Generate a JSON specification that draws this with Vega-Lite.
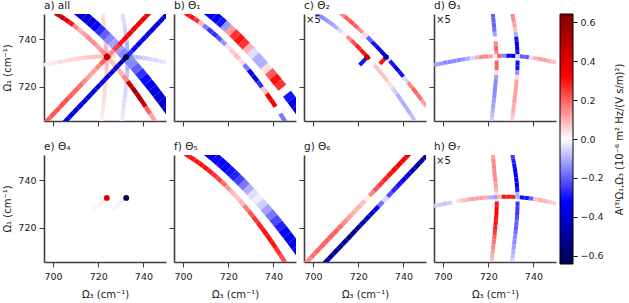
{
"$schema":"https://vega.github.io/schema/vega-lite/v6.json",
"padding":{"left":2,"top":0,"right":1,"bottom":1},
"config":{"font":"DejaVu Sans","view":{"stroke":null},
"axis":{"grid":false,"domainColor":"#404040","domainWidth":1.6,"tickColor":"#404040","tickWidth":1.1,"tickSize":5,"labelFontSize":9.5,"labelColor":"#1a1a1a","titleFontSize":10,"titleFontWeight":"normal","titleColor":"#1a1a1a","labelPadding":3},
"axisX":{"titlePadding":9,"labelPadding":4},"axisY":{"titlePadding":5},
"title":{"anchor":"start","frame":"group","fontSize":10.5,"fontWeight":"normal","offset":3,"color":"#1a1a1a"}},
"datasets":{"geom":[
{"s":"T0","x":701,"y":750.86,"x2":703,"y2":749.73,"w":"n"},{"s":"T1","x":703,"y":749.73,"x2":705,"y2":748.51,"w":"n"},{"s":"T2","x":705,"y":748.51,"x2":707,"y2":747.2,"w":"n"},{"s":"T3","x":707,"y":747.2,"x2":709,"y2":745.81,"w":"n"},{"s":"T4","x":709,"y":745.81,"x2":711,"y2":744.33,"w":"n"},{"s":"T5","x":711,"y":744.33,"x2":713,"y2":742.76,"w":"n"},{"s":"T6","x":713,"y":742.76,"x2":715,"y2":741.1,"w":"n"},{"s":"T7","x":715,"y":741.1,"x2":717,"y2":739.36,"w":"n"},{"s":"T8","x":717,"y":739.36,"x2":719,"y2":737.52,"w":"n"},{"s":"T9","x":719,"y":737.52,"x2":721,"y2":735.6,"w":"n"},{"s":"T10","x":721,"y":735.6,"x2":723,"y2":733.6,"w":"n"},{"s":"T11","x":723,"y":733.6,"x2":725,"y2":731.5,"w":"n"},{"s":"T12","x":725,"y":731.5,"x2":727,"y2":729.32,"w":"n"},{"s":"T13","x":727,"y":729.32,"x2":729,"y2":727.04,"w":"n"},{"s":"T14","x":729,"y":727.04,"x2":731,"y2":724.68,"w":"n"},{"s":"T15","x":731,"y":724.68,"x2":733,"y2":722.24,"w":"n"},{"s":"T16","x":733,"y":722.24,"x2":735,"y2":719.7,"w":"n"},{"s":"T17","x":735,"y":719.7,"x2":737,"y2":717.08,"w":"n"},{"s":"T18","x":737,"y":717.08,"x2":739,"y2":714.37,"w":"n"},{"s":"T19","x":739,"y":714.37,"x2":741,"y2":711.57,"w":"n"},{"s":"T20","x":741,"y":711.57,"x2":743,"y2":708.68,"w":"n"},{"s":"T21","x":743,"y":708.68,"x2":745,"y2":705.71,"w":"n"},{"s":"T22","x":745,"y":705.71,"x2":747,"y2":702.65,"w":"n"},
{"s":"W0","x":710.5,"y":752.2,"x2":714,"y2":749.5,"w":"k"},{"s":"W1","x":714,"y":749.5,"x2":716,"y2":747.87,"w":"k"},{"s":"W2","x":716,"y":747.87,"x2":718,"y2":746.2,"w":"k"},{"s":"W3","x":718,"y":746.2,"x2":720,"y2":744.47,"w":"k"},{"s":"W4","x":720,"y":744.47,"x2":722,"y2":742.69,"w":"k"},{"s":"W5","x":722,"y":742.69,"x2":724,"y2":740.85,"w":"k"},{"s":"W6","x":724,"y":740.85,"x2":726,"y2":738.95,"w":"k"},{"s":"W7","x":726,"y":738.95,"x2":728,"y2":737.01,"w":"k"},{"s":"W8","x":728,"y":737.01,"x2":730,"y2":735.01,"w":"k"},{"s":"W9","x":730,"y":735.01,"x2":732,"y2":732.95,"w":"k"},{"s":"W10","x":732,"y":732.95,"x2":734,"y2":730.85,"w":"k"},{"s":"W11","x":734,"y":730.85,"x2":736,"y2":728.67,"w":"k"},{"s":"W12","x":736,"y":728.67,"x2":738,"y2":726.46,"w":"k"},{"s":"W13","x":738,"y":726.46,"x2":740,"y2":724.19,"w":"k"},{"s":"W14","x":740,"y":724.19,"x2":742,"y2":721.86,"w":"k"},{"s":"W15","x":742,"y":721.86,"x2":744,"y2":719.48,"w":"k"},{"s":"W16","x":744,"y":719.48,"x2":746,"y2":717.04,"w":"k"},{"s":"W17","x":746,"y":717.04,"x2":748,"y2":714.55,"w":"k"},{"s":"W18","x":748,"y":714.55,"x2":750,"y2":712.01,"w":"k"},{"s":"W19","x":750,"y":712.01,"x2":753,"y2":708.09,"w":"k"},
{"s":"R0","x":696,"y":704.4,"x2":699,"y2":707.4,"w":"d"},{"s":"R1","x":699,"y":707.4,"x2":701,"y2":709.4,"w":"d"},{"s":"R2","x":701,"y":709.4,"x2":703,"y2":711.4,"w":"d"},{"s":"R3","x":703,"y":711.4,"x2":705,"y2":713.4,"w":"d"},{"s":"R4","x":705,"y":713.4,"x2":707,"y2":715.4,"w":"d"},{"s":"R5","x":707,"y":715.4,"x2":709,"y2":717.4,"w":"d"},{"s":"R6","x":709,"y":717.4,"x2":711,"y2":719.4,"w":"d"},{"s":"R7","x":711,"y":719.4,"x2":713,"y2":721.4,"w":"d"},{"s":"R8","x":713,"y":721.4,"x2":715,"y2":723.4,"w":"d"},{"s":"R9","x":715,"y":723.4,"x2":717,"y2":725.4,"w":"d"},{"s":"R10","x":717,"y":725.4,"x2":719,"y2":727.4,"w":"d"},{"s":"R11","x":719,"y":727.4,"x2":721,"y2":729.4,"w":"d"},{"s":"R12","x":721,"y":729.4,"x2":723,"y2":731.4,"w":"d"},{"s":"R13","x":723,"y":731.4,"x2":725,"y2":733.4,"w":"d"},{"s":"R14","x":725,"y":733.4,"x2":727,"y2":735.4,"w":"d"},{"s":"R15","x":727,"y":735.4,"x2":729,"y2":737.4,"w":"d"},{"s":"R16","x":729,"y":737.4,"x2":731,"y2":739.4,"w":"d"},{"s":"R17","x":731,"y":739.4,"x2":733,"y2":741.4,"w":"d"},{"s":"R18","x":733,"y":741.4,"x2":735,"y2":743.4,"w":"d"},{"s":"R19","x":735,"y":743.4,"x2":737,"y2":745.4,"w":"d"},{"s":"R20","x":737,"y":745.4,"x2":739,"y2":747.4,"w":"d"},{"s":"R21","x":739,"y":747.4,"x2":741,"y2":749.4,"w":"d"},{"s":"R22","x":741,"y":749.4,"x2":744,"y2":752.4,"w":"d"},
{"s":"B0","x":704,"y":704,"x2":707,"y2":707,"w":"d"},{"s":"B1","x":707,"y":707,"x2":709,"y2":709,"w":"d"},{"s":"B2","x":709,"y":709,"x2":711,"y2":711,"w":"d"},{"s":"B3","x":711,"y":711,"x2":713,"y2":713,"w":"d"},{"s":"B4","x":713,"y":713,"x2":715,"y2":715,"w":"d"},{"s":"B5","x":715,"y":715,"x2":717,"y2":717,"w":"d"},{"s":"B6","x":717,"y":717,"x2":719,"y2":719,"w":"d"},{"s":"B7","x":719,"y":719,"x2":721,"y2":721,"w":"d"},{"s":"B8","x":721,"y":721,"x2":723,"y2":723,"w":"d"},{"s":"B9","x":723,"y":723,"x2":725,"y2":725,"w":"d"},{"s":"B10","x":725,"y":725,"x2":727,"y2":727,"w":"d"},{"s":"B11","x":727,"y":727,"x2":729,"y2":729,"w":"d"},{"s":"B12","x":729,"y":729,"x2":731,"y2":731,"w":"d"},{"s":"B13","x":731,"y":731,"x2":733,"y2":733,"w":"d"},{"s":"B14","x":733,"y":733,"x2":735,"y2":735,"w":"d"},{"s":"B15","x":735,"y":735,"x2":737,"y2":737,"w":"d"},{"s":"B16","x":737,"y":737,"x2":739,"y2":739,"w":"d"},{"s":"B17","x":739,"y":739,"x2":741,"y2":741,"w":"d"},{"s":"B18","x":741,"y":741,"x2":743,"y2":743,"w":"d"},{"s":"B19","x":743,"y":743,"x2":745,"y2":745,"w":"d"},{"s":"B20","x":745,"y":745,"x2":747,"y2":747,"w":"d"},{"s":"B21","x":747,"y":747,"x2":749,"y2":749,"w":"d"},{"s":"B22","x":749,"y":749,"x2":752,"y2":752,"w":"d"},
{"s":"P0","x":722.0,"y":751,"x2":722.2,"y2":749,"w":"l"},{"s":"P1","x":722.2,"y":749,"x2":722.4,"y2":747,"w":"l"},{"s":"P2","x":722.4,"y":747,"x2":722.6,"y2":745,"w":"l"},{"s":"P3","x":722.6,"y":745,"x2":722.8,"y2":743,"w":"l"},{"s":"P4","x":722.8,"y":743,"x2":723.0,"y2":741,"w":"l"},{"s":"P5","x":723.0,"y":741,"x2":723.2,"y2":739,"w":"l"},{"s":"P6","x":723.2,"y":739,"x2":723.4,"y2":737,"w":"l"},{"s":"P7","x":723.4,"y":737,"x2":723.6,"y2":735,"w":"l"},{"s":"P8","x":723.6,"y":735,"x2":723.7,"y2":733,"w":"l"},{"s":"P9","x":723.7,"y":733,"x2":723.8,"y2":731,"w":"l"},{"s":"P10","x":723.8,"y":731,"x2":723.75,"y2":729,"w":"l"},{"s":"P11","x":723.75,"y":729,"x2":723.7,"y2":727,"w":"l"},{"s":"P12","x":723.7,"y":727,"x2":723.55,"y2":725,"w":"l"},{"s":"P13","x":723.55,"y":725,"x2":723.4,"y2":723,"w":"l"},{"s":"P14","x":723.4,"y":723,"x2":723.2,"y2":721,"w":"l"},{"s":"P15","x":723.2,"y":721,"x2":723.0,"y2":719,"w":"l"},{"s":"P16","x":723.0,"y":719,"x2":722.8,"y2":717,"w":"l"},{"s":"P17","x":722.8,"y":717,"x2":722.6,"y2":715,"w":"l"},{"s":"P18","x":722.6,"y":715,"x2":722.35,"y2":713,"w":"l"},{"s":"P19","x":722.35,"y":713,"x2":722.1,"y2":711,"w":"l"},{"s":"P20","x":722.1,"y":711,"x2":721.85,"y2":709,"w":"l"},{"s":"P21","x":721.85,"y":709,"x2":721.6,"y2":707,"w":"l"},{"s":"P22","x":721.6,"y":707,"x2":721.3,"y2":705,"w":"l"},{"s":"P23","x":721.3,"y":705,"x2":721.0,"y2":703,"w":"l"},
{"s":"Q0","x":730.6,"y":751,"x2":731.0,"y2":749,"w":"l"},{"s":"Q1","x":731.0,"y":749,"x2":731.4,"y2":747,"w":"l"},{"s":"Q2","x":731.4,"y":747,"x2":731.75,"y2":745,"w":"l"},{"s":"Q3","x":731.75,"y":745,"x2":732.1,"y2":743,"w":"l"},{"s":"Q4","x":732.1,"y":743,"x2":732.35,"y2":741,"w":"l"},{"s":"Q5","x":732.35,"y":741,"x2":732.6,"y2":739,"w":"l"},{"s":"Q6","x":732.6,"y":739,"x2":732.75,"y2":737,"w":"l"},{"s":"Q7","x":732.75,"y":737,"x2":732.9,"y2":735,"w":"l"},{"s":"Q8","x":732.9,"y":735,"x2":732.95,"y2":733,"w":"l"},{"s":"Q9","x":732.95,"y":733,"x2":733.0,"y2":731,"w":"l"},{"s":"Q10","x":733.0,"y":731,"x2":732.95,"y2":729,"w":"l"},{"s":"Q11","x":732.95,"y":729,"x2":732.9,"y2":727,"w":"l"},{"s":"Q12","x":732.9,"y":727,"x2":732.75,"y2":725,"w":"l"},{"s":"Q13","x":732.75,"y":725,"x2":732.6,"y2":723,"w":"l"},{"s":"Q14","x":732.6,"y":723,"x2":732.4,"y2":721,"w":"l"},{"s":"Q15","x":732.4,"y":721,"x2":732.2,"y2":719,"w":"l"},{"s":"Q16","x":732.2,"y":719,"x2":731.95,"y2":717,"w":"l"},{"s":"Q17","x":731.95,"y":717,"x2":731.7,"y2":715,"w":"l"},{"s":"Q18","x":731.7,"y":715,"x2":731.45,"y2":713,"w":"l"},{"s":"Q19","x":731.45,"y":713,"x2":731.2,"y2":711,"w":"l"},{"s":"Q20","x":731.2,"y":711,"x2":730.95,"y2":709,"w":"l"},{"s":"Q21","x":730.95,"y":709,"x2":730.7,"y2":707,"w":"l"},{"s":"Q22","x":730.7,"y":707,"x2":730.4,"y2":705,"w":"l"},{"s":"Q23","x":730.4,"y":705,"x2":730.1,"y2":703,"w":"l"},
{"s":"H0","x":696,"y":729.1,"x2":698,"y2":729.5,"w":"l"},{"s":"H1","x":698,"y":729.5,"x2":700,"y2":729.9,"w":"l"},{"s":"H2","x":700,"y":729.9,"x2":702,"y2":730.25,"w":"l"},{"s":"H3","x":702,"y":730.25,"x2":704,"y2":730.6,"w":"l"},{"s":"H4","x":704,"y":730.6,"x2":706,"y2":730.95,"w":"l"},{"s":"H5","x":706,"y":730.95,"x2":708,"y2":731.3,"w":"l"},{"s":"H6","x":708,"y":731.3,"x2":710,"y2":731.6,"w":"l"},{"s":"H7","x":710,"y":731.6,"x2":712,"y2":731.9,"w":"l"},{"s":"H8","x":712,"y":731.9,"x2":714,"y2":732.15,"w":"l"},{"s":"H9","x":714,"y":732.15,"x2":716,"y2":732.4,"w":"l"},{"s":"H10","x":716,"y":732.4,"x2":718,"y2":732.55,"w":"l"},{"s":"H11","x":718,"y":732.55,"x2":720,"y2":732.7,"w":"l"},{"s":"H12","x":720,"y":732.7,"x2":722,"y2":732.8,"w":"l"},{"s":"H13","x":722,"y":732.8,"x2":724,"y2":732.9,"w":"l"},{"s":"H14","x":724,"y":732.9,"x2":726,"y2":732.95,"w":"l"},{"s":"H15","x":726,"y":732.95,"x2":728,"y2":733.0,"w":"l"},{"s":"H16","x":728,"y":733.0,"x2":730,"y2":732.95,"w":"l"},{"s":"H17","x":730,"y":732.95,"x2":732,"y2":732.9,"w":"l"},{"s":"H18","x":732,"y":732.9,"x2":734,"y2":732.75,"w":"l"},{"s":"H19","x":734,"y":732.75,"x2":736,"y2":732.6,"w":"l"},{"s":"H20","x":736,"y":732.6,"x2":738,"y2":732.35,"w":"l"},{"s":"H21","x":738,"y":732.35,"x2":740,"y2":732.1,"w":"l"},{"s":"H22","x":740,"y":732.1,"x2":742,"y2":731.75,"w":"l"},{"s":"H23","x":742,"y":731.75,"x2":744,"y2":731.4,"w":"l"},{"s":"H24","x":744,"y":731.4,"x2":746,"y2":731.0,"w":"l"},{"s":"H25","x":746,"y":731.0,"x2":748,"y2":730.6,"w":"l"},{"s":"H26","x":748,"y":730.6,"x2":750,"y2":730.1,"w":"l"},{"s":"H27","x":750,"y":730.1,"x2":752,"y2":729.6,"w":"l"},
{"s":"S1","x":720.6,"y":729.0,"x2":723.6,"y2":732.0,"w":"n"},{"s":"S2","x":729.6,"y":729.6,"x2":732.2,"y2":732.2,"w":"n"},
{"s":"E1","x":717.5,"y":727.2,"x2":723,"y2":732.2,"w":"l"},{"s":"E2","x":726.5,"y":727.5,"x2":731.6,"y2":732.2,"w":"l"},
{"s":"dR","x":723.8,"y":732.5,"w":"dot"},{"s":"dB","x":732.4,"y":732.5,"w":"dot"}
]},
"spacing":3,
"hconcat":[
{
"data":{"values":[
{"p":"a","s":"P0","v":0.04},{"p":"a","s":"P1","v":0.05},{"p":"a","s":"P2","v":0.05},{"p":"a","s":"P3","v":0.06},{"p":"a","s":"P4","v":0.06},{"p":"a","s":"P5","v":0.07},{"p":"a","s":"P6","v":0.08},{"p":"a","s":"P7","v":0.1},{"p":"a","s":"P8","v":0.1},{"p":"a","s":"P9","v":0.1},{"p":"a","s":"P10","v":0.1},{"p":"a","s":"P11","v":0.08},{"p":"a","s":"P12","v":0.07},{"p":"a","s":"P13","v":0.06},{"p":"a","s":"P14","v":0.06},{"p":"a","s":"P15","v":0.05},{"p":"a","s":"P16","v":0.05},{"p":"a","s":"P17","v":0.05},{"p":"a","s":"P18","v":0.04},{"p":"a","s":"P19","v":0.04},{"p":"a","s":"P20","v":0.03},{"p":"a","s":"P21","v":0.03},{"p":"a","s":"P22","v":0.02},{"p":"a","s":"P23","v":0.02},
{"p":"a","s":"Q0","v":-0.04},{"p":"a","s":"Q1","v":-0.05},{"p":"a","s":"Q2","v":-0.05},{"p":"a","s":"Q3","v":-0.06},{"p":"a","s":"Q4","v":-0.07},{"p":"a","s":"Q5","v":-0.08},{"p":"a","s":"Q6","v":-0.1},{"p":"a","s":"Q7","v":-0.1},{"p":"a","s":"Q8","v":-0.12},{"p":"a","s":"Q9","v":-0.12},{"p":"a","s":"Q10","v":-0.1},{"p":"a","s":"Q11","v":-0.1},{"p":"a","s":"Q12","v":-0.08},{"p":"a","s":"Q13","v":-0.07},{"p":"a","s":"Q14","v":-0.06},{"p":"a","s":"Q15","v":-0.05},{"p":"a","s":"Q16","v":-0.05},{"p":"a","s":"Q17","v":-0.05},{"p":"a","s":"Q18","v":-0.04},{"p":"a","s":"Q19","v":-0.04},{"p":"a","s":"Q20","v":-0.03},{"p":"a","s":"Q21","v":-0.03},{"p":"a","s":"Q22","v":-0.02},{"p":"a","s":"Q23","v":-0.02},
{"p":"a","s":"H0","v":0.02},{"p":"a","s":"H1","v":0.03},{"p":"a","s":"H2","v":0.03},{"p":"a","s":"H3","v":0.04},{"p":"a","s":"H4","v":0.04},{"p":"a","s":"H5","v":0.05},{"p":"a","s":"H6","v":0.05},{"p":"a","s":"H7","v":0.06},{"p":"a","s":"H8","v":0.06},{"p":"a","s":"H9","v":0.07},{"p":"a","s":"H10","v":0.08},{"p":"a","s":"H11","v":0.08},{"p":"a","s":"H12","v":0.08},{"p":"a","s":"H13","v":0.1},{"p":"a","s":"H14","v":0.08},{"p":"a","s":"H15","v":0.05},{"p":"a","s":"H16","v":0.0},{"p":"a","s":"H17","v":-0.05},{"p":"a","s":"H18","v":-0.1},{"p":"a","s":"H19","v":-0.1},{"p":"a","s":"H20","v":-0.08},{"p":"a","s":"H21","v":-0.07},{"p":"a","s":"H22","v":-0.06},{"p":"a","s":"H23","v":-0.05},{"p":"a","s":"H24","v":-0.05},{"p":"a","s":"H25","v":-0.04},{"p":"a","s":"H26","v":-0.03},{"p":"a","s":"H27","v":-0.02},
{"p":"a","s":"W0","v":-0.38},{"p":"a","s":"W1","v":-0.4},{"p":"a","s":"W2","v":-0.38},{"p":"a","s":"W3","v":-0.33},{"p":"a","s":"W4","v":-0.27},{"p":"a","s":"W5","v":-0.2},{"p":"a","s":"W6","v":-0.15},{"p":"a","s":"W7","v":-0.12},{"p":"a","s":"W8","v":-0.12},{"p":"a","s":"W9","v":-0.15},{"p":"a","s":"W10","v":-0.15},{"p":"a","s":"W11","v":-0.15},{"p":"a","s":"W12","v":-0.2},{"p":"a","s":"W13","v":-0.26},{"p":"a","s":"W14","v":-0.31},{"p":"a","s":"W15","v":-0.35},{"p":"a","s":"W16","v":-0.38},{"p":"a","s":"W17","v":-0.4},{"p":"a","s":"W18","v":-0.42},{"p":"a","s":"W19","v":-0.42},
{"p":"a","s":"T0","v":0.45},{"p":"a","s":"T1","v":0.45},{"p":"a","s":"T2","v":0.4},{"p":"a","s":"T3","v":0.3},{"p":"a","s":"T4","v":0.15},{"p":"a","s":"T5","v":0.1},{"p":"a","s":"T6","v":0.12},{"p":"a","s":"T7","v":0.15},{"p":"a","s":"T8","v":0.15},{"p":"a","s":"T9","v":0.12},{"p":"a","s":"T10","v":0.15},{"p":"a","s":"T11","v":0.3},{"p":"a","s":"T12","v":0.08},{"p":"a","s":"T13","v":0.1},{"p":"a","s":"T14","v":0.1},{"p":"a","s":"T15","v":0.15},{"p":"a","s":"T16","v":0.45},{"p":"a","s":"T17","v":0.55},{"p":"a","s":"T18","v":0.55},{"p":"a","s":"T19","v":0.45},{"p":"a","s":"T20","v":0.2},{"p":"a","s":"T21","v":0.12},{"p":"a","s":"T22","v":0.08},
{"p":"a","s":"R0","v":0.2},{"p":"a","s":"R1","v":0.22},{"p":"a","s":"R2","v":0.22},{"p":"a","s":"R3","v":0.22},{"p":"a","s":"R4","v":0.22},{"p":"a","s":"R5","v":0.2},{"p":"a","s":"R6","v":0.2},{"p":"a","s":"R7","v":0.18},{"p":"a","s":"R8","v":0.15},{"p":"a","s":"R9","v":0.12},{"p":"a","s":"R10","v":0.12},{"p":"a","s":"R11","v":0.15},{"p":"a","s":"R12","v":0.2},{"p":"a","s":"R13","v":0.3},{"p":"a","s":"R14","v":0.15},{"p":"a","s":"R15","v":0.25},{"p":"a","s":"R16","v":0.3},{"p":"a","s":"R17","v":0.32},{"p":"a","s":"R18","v":0.35},{"p":"a","s":"R19","v":0.35},{"p":"a","s":"R20","v":0.35},{"p":"a","s":"R21","v":0.35},{"p":"a","s":"R22","v":0.35},
{"p":"a","s":"B0","v":-0.36},{"p":"a","s":"B1","v":-0.38},{"p":"a","s":"B2","v":-0.38},{"p":"a","s":"B3","v":-0.38},{"p":"a","s":"B4","v":-0.38},{"p":"a","s":"B5","v":-0.38},{"p":"a","s":"B6","v":-0.38},{"p":"a","s":"B7","v":-0.38},{"p":"a","s":"B8","v":-0.38},{"p":"a","s":"B9","v":-0.38},{"p":"a","s":"B10","v":-0.38},{"p":"a","s":"B11","v":-0.4},{"p":"a","s":"B12","v":-0.42},{"p":"a","s":"B13","v":-0.55},{"p":"a","s":"B14","v":-0.28},{"p":"a","s":"B15","v":-0.32},{"p":"a","s":"B16","v":-0.34},{"p":"a","s":"B17","v":-0.36},{"p":"a","s":"B18","v":-0.38},{"p":"a","s":"B19","v":-0.38},{"p":"a","s":"B20","v":-0.4},{"p":"a","s":"B21","v":-0.4},{"p":"a","s":"B22","v":-0.4},
{"p":"a","s":"dR","v":0.5},{"p":"a","s":"dB","v":-0.64},
{"p":"b","s":"W0","v":-0.32},{"p":"b","s":"W1","v":-0.35},{"p":"b","s":"W2","v":-0.3},{"p":"b","s":"W3","v":-0.13},{"p":"b","s":"W4","v":0.13},{"p":"b","s":"W5","v":0.26},{"p":"b","s":"W6","v":0.3},{"p":"b","s":"W7","v":0.26},{"p":"b","s":"W8","v":0.1},{"p":"b","s":"W9","v":-0.04},{"p":"b","s":"W10","v":-0.1},{"p":"b","s":"W11","v":-0.1},{"p":"b","s":"W12","v":0.04},{"p":"b","s":"W13","v":0.21},{"p":"b","s":"W14","v":0.3},{"p":"b","s":"W15","v":0.26},{"p":"b","s":"W16","v":0.0},{"p":"b","s":"W17","v":-0.3},{"p":"b","s":"W18","v":-0.38},{"p":"b","s":"W19","v":-0.38},
{"p":"b","s":"T0","v":0.3},{"p":"b","s":"T1","v":0.3},{"p":"b","s":"T2","v":0.26},{"p":"b","s":"T3","v":0.1},{"p":"b","s":"T4","v":-0.17},{"p":"b","s":"T5","v":-0.26},{"p":"b","s":"T6","v":-0.26},{"p":"b","s":"T7","v":-0.21},{"p":"b","s":"T8","v":-0.13},{"p":"b","s":"T9","v":0.04},{"p":"b","s":"T10","v":0.07},{"p":"b","s":"T11","v":0.08},{"p":"b","s":"T12","v":0.04},{"p":"b","s":"T13","v":-0.17},{"p":"b","s":"T14","v":-0.34},{"p":"b","s":"T15","v":-0.38},{"p":"b","s":"T16","v":-0.26},{"p":"b","s":"T17","v":0.08},{"p":"b","s":"T18","v":0.34},{"p":"b","s":"T19","v":0.34},{"p":"b","s":"T20","v":0.0},{"p":"b","s":"T21","v":-0.17},{"p":"b","s":"T22","v":-0.17},
{"p":"c","s":"T0","v":-0.15},{"p":"c","s":"T1","v":-0.15},{"p":"c","s":"T2","v":-0.13},{"p":"c","s":"T3","v":-0.12},{"p":"c","s":"T4","v":-0.1},{"p":"c","s":"T5","v":-0.05},{"p":"c","s":"T6","v":0.02},{"p":"c","s":"T7","v":0.15},{"p":"c","s":"T8","v":0.22},{"p":"c","s":"T9","v":0.28},{"p":"c","s":"T10","v":0.3},{"p":"c","s":"T11","v":0.35},{"p":"c","s":"T12","v":0.0},{"p":"c","s":"T13","v":0.07},{"p":"c","s":"T14","v":0.08},{"p":"c","s":"T15","v":0.08},{"p":"c","s":"T16","v":0.04},{"p":"c","s":"T17","v":-0.06},{"p":"c","s":"T18","v":-0.1},{"p":"c","s":"T19","v":-0.1},{"p":"c","s":"T20","v":-0.1},{"p":"c","s":"T21","v":-0.08},{"p":"c","s":"T22","v":-0.06},
{"p":"c","s":"W0","v":0.15},{"p":"c","s":"W1","v":0.2},{"p":"c","s":"W2","v":0.22},{"p":"c","s":"W3","v":0.2},{"p":"c","s":"W4","v":0.15},{"p":"c","s":"W5","v":0.05},{"p":"c","s":"W6","v":-0.2},{"p":"c","s":"W7","v":-0.3},{"p":"c","s":"W8","v":-0.35},{"p":"c","s":"W9","v":-0.4},{"p":"c","s":"W10","v":-0.05},{"p":"c","s":"W11","v":-0.3},{"p":"c","s":"W12","v":-0.35},{"p":"c","s":"W13","v":-0.3},{"p":"c","s":"W14","v":-0.05},{"p":"c","s":"W15","v":0.15},{"p":"c","s":"W16","v":0.2},{"p":"c","s":"W17","v":0.18},{"p":"c","s":"W18","v":0.12},{"p":"c","s":"W19","v":0.08},
{"p":"c","s":"S1","v":-0.3},{"p":"c","s":"S2","v":0.3},{"p":"c","s":"dR","v":0.45},{"p":"c","s":"dB","v":-0.45},
{"p":"d","s":"P0","v":-0.2},{"p":"d","s":"P1","v":-0.2},{"p":"d","s":"P2","v":-0.2},{"p":"d","s":"P3","v":-0.18},{"p":"d","s":"P4","v":-0.12},{"p":"d","s":"P5","v":0.0},{"p":"d","s":"P6","v":0.15},{"p":"d","s":"P7","v":0.2},{"p":"d","s":"P8","v":0.15},{"p":"d","s":"P9","v":0.0},{"p":"d","s":"P10","v":0.2},{"p":"d","s":"P11","v":0.2},{"p":"d","s":"P12","v":0.05},{"p":"d","s":"P13","v":-0.12},{"p":"d","s":"P14","v":-0.15},{"p":"d","s":"P15","v":-0.15},{"p":"d","s":"P16","v":-0.15},{"p":"d","s":"P17","v":-0.14},{"p":"d","s":"P18","v":-0.12},{"p":"d","s":"P19","v":-0.12},{"p":"d","s":"P20","v":-0.1},{"p":"d","s":"P21","v":-0.08},{"p":"d","s":"P22","v":-0.06},{"p":"d","s":"P23","v":-0.05},
{"p":"d","s":"Q0","v":0.15},{"p":"d","s":"Q1","v":0.15},{"p":"d","s":"Q2","v":0.12},{"p":"d","s":"Q3","v":0.08},{"p":"d","s":"Q4","v":-0.1},{"p":"d","s":"Q5","v":-0.3},{"p":"d","s":"Q6","v":-0.35},{"p":"d","s":"Q7","v":-0.35},{"p":"d","s":"Q8","v":-0.3},{"p":"d","s":"Q9","v":-0.02},{"p":"d","s":"Q10","v":-0.3},{"p":"d","s":"Q11","v":-0.3},{"p":"d","s":"Q12","v":-0.15},{"p":"d","s":"Q13","v":0.05},{"p":"d","s":"Q14","v":0.12},{"p":"d","s":"Q15","v":0.12},{"p":"d","s":"Q16","v":0.12},{"p":"d","s":"Q17","v":0.12},{"p":"d","s":"Q18","v":0.12},{"p":"d","s":"Q19","v":0.1},{"p":"d","s":"Q20","v":0.1},{"p":"d","s":"Q21","v":0.08},{"p":"d","s":"Q22","v":0.06},{"p":"d","s":"Q23","v":0.05},
{"p":"d","s":"H0","v":-0.12},{"p":"d","s":"H1","v":-0.13},{"p":"d","s":"H2","v":-0.15},{"p":"d","s":"H3","v":-0.15},{"p":"d","s":"H4","v":-0.15},{"p":"d","s":"H5","v":-0.15},{"p":"d","s":"H6","v":-0.13},{"p":"d","s":"H7","v":-0.1},{"p":"d","s":"H8","v":-0.05},{"p":"d","s":"H9","v":0.1},{"p":"d","s":"H10","v":0.15},{"p":"d","s":"H11","v":0.15},{"p":"d","s":"H12","v":0.12},{"p":"d","s":"H13","v":0.02},{"p":"d","s":"H14","v":0.2},{"p":"d","s":"H15","v":-0.15},{"p":"d","s":"H16","v":-0.35},{"p":"d","s":"H17","v":-0.35},{"p":"d","s":"H18","v":-0.05},{"p":"d","s":"H19","v":-0.2},{"p":"d","s":"H20","v":-0.2},{"p":"d","s":"H21","v":-0.05},{"p":"d","s":"H22","v":0.1},{"p":"d","s":"H23","v":0.12},{"p":"d","s":"H24","v":0.12},{"p":"d","s":"H25","v":0.1},{"p":"d","s":"H26","v":0.08},{"p":"d","s":"H27","v":0.06},
{"p":"e","s":"E1","v":0.015},{"p":"e","s":"E2","v":-0.015},{"p":"e","s":"dR","v":0.42},{"p":"e","s":"dB","v":-0.62},
{"p":"f","s":"W0","v":-0.35},{"p":"f","s":"W1","v":-0.35},{"p":"f","s":"W2","v":-0.33},{"p":"f","s":"W3","v":-0.32},{"p":"f","s":"W4","v":-0.3},{"p":"f","s":"W5","v":-0.28},{"p":"f","s":"W6","v":-0.24},{"p":"f","s":"W7","v":-0.17},{"p":"f","s":"W8","v":-0.1},{"p":"f","s":"W9","v":-0.04},{"p":"f","s":"W10","v":-0.02},{"p":"f","s":"W11","v":-0.06},{"p":"f","s":"W12","v":-0.12},{"p":"f","s":"W13","v":-0.17},{"p":"f","s":"W14","v":-0.23},{"p":"f","s":"W15","v":-0.28},{"p":"f","s":"W16","v":-0.32},{"p":"f","s":"W17","v":-0.34},{"p":"f","s":"W18","v":-0.35},{"p":"f","s":"W19","v":-0.35},
{"p":"f","s":"T0","v":0.3},{"p":"f","s":"T1","v":0.3},{"p":"f","s":"T2","v":0.3},{"p":"f","s":"T3","v":0.3},{"p":"f","s":"T4","v":0.3},{"p":"f","s":"T5","v":0.28},{"p":"f","s":"T6","v":0.26},{"p":"f","s":"T7","v":0.24},{"p":"f","s":"T8","v":0.19},{"p":"f","s":"T9","v":0.13},{"p":"f","s":"T10","v":0.09},{"p":"f","s":"T11","v":0.07},{"p":"f","s":"T12","v":0.1},{"p":"f","s":"T13","v":0.17},{"p":"f","s":"T14","v":0.21},{"p":"f","s":"T15","v":0.25},{"p":"f","s":"T16","v":0.28},{"p":"f","s":"T17","v":0.3},{"p":"f","s":"T18","v":0.3},{"p":"f","s":"T19","v":0.3},{"p":"f","s":"T20","v":0.26},{"p":"f","s":"T21","v":0.22},{"p":"f","s":"T22","v":0.19},
{"p":"g","s":"R0","v":0.15},{"p":"g","s":"R1","v":0.18},{"p":"g","s":"R2","v":0.2},{"p":"g","s":"R3","v":0.2},{"p":"g","s":"R4","v":0.2},{"p":"g","s":"R5","v":0.2},{"p":"g","s":"R6","v":0.2},{"p":"g","s":"R7","v":0.18},{"p":"g","s":"R8","v":0.15},{"p":"g","s":"R9","v":0.12},{"p":"g","s":"R10","v":0.1},{"p":"g","s":"R11","v":0.1},{"p":"g","s":"R12","v":0.08},{"p":"g","s":"R13","v":0.02},{"p":"g","s":"R14","v":0.15},{"p":"g","s":"R15","v":0.22},{"p":"g","s":"R16","v":0.25},{"p":"g","s":"R17","v":0.28},{"p":"g","s":"R18","v":0.3},{"p":"g","s":"R19","v":0.32},{"p":"g","s":"R20","v":0.35},{"p":"g","s":"R21","v":0.35},{"p":"g","s":"R22","v":0.35},
{"p":"g","s":"B0","v":-0.48},{"p":"g","s":"B1","v":-0.5},{"p":"g","s":"B2","v":-0.52},{"p":"g","s":"B3","v":-0.52},{"p":"g","s":"B4","v":-0.52},{"p":"g","s":"B5","v":-0.52},{"p":"g","s":"B6","v":-0.52},{"p":"g","s":"B7","v":-0.5},{"p":"g","s":"B8","v":-0.48},{"p":"g","s":"B9","v":-0.44},{"p":"g","s":"B10","v":-0.4},{"p":"g","s":"B11","v":-0.35},{"p":"g","s":"B12","v":-0.18},{"p":"g","s":"B13","v":-0.05},{"p":"g","s":"B14","v":-0.22},{"p":"g","s":"B15","v":-0.27},{"p":"g","s":"B16","v":-0.3},{"p":"g","s":"B17","v":-0.35},{"p":"g","s":"B18","v":-0.4},{"p":"g","s":"B19","v":-0.44},{"p":"g","s":"B20","v":-0.48},{"p":"g","s":"B21","v":-0.5},{"p":"g","s":"B22","v":-0.52},
{"p":"h","s":"P0","v":0.12},{"p":"h","s":"P1","v":0.15},{"p":"h","s":"P2","v":0.15},{"p":"h","s":"P3","v":0.15},{"p":"h","s":"P4","v":0.15},{"p":"h","s":"P5","v":0.15},{"p":"h","s":"P6","v":0.12},{"p":"h","s":"P7","v":0.1},{"p":"h","s":"P8","v":0.05},{"p":"h","s":"P9","v":0.05},{"p":"h","s":"P10","v":0.3},{"p":"h","s":"P11","v":0.32},{"p":"h","s":"P12","v":0.32},{"p":"h","s":"P13","v":0.3},{"p":"h","s":"P14","v":0.3},{"p":"h","s":"P15","v":0.28},{"p":"h","s":"P16","v":0.25},{"p":"h","s":"P17","v":0.2},{"p":"h","s":"P18","v":0.18},{"p":"h","s":"P19","v":0.15},{"p":"h","s":"P20","v":0.12},{"p":"h","s":"P21","v":0.1},{"p":"h","s":"P22","v":0.08},{"p":"h","s":"P23","v":0.05},
{"p":"h","s":"Q0","v":-0.25},{"p":"h","s":"Q1","v":-0.28},{"p":"h","s":"Q2","v":-0.3},{"p":"h","s":"Q3","v":-0.33},{"p":"h","s":"Q4","v":-0.35},{"p":"h","s":"Q5","v":-0.35},{"p":"h","s":"Q6","v":-0.35},{"p":"h","s":"Q7","v":-0.3},{"p":"h","s":"Q8","v":-0.1},{"p":"h","s":"Q9","v":0.0},{"p":"h","s":"Q10","v":-0.25},{"p":"h","s":"Q11","v":-0.25},{"p":"h","s":"Q12","v":-0.25},{"p":"h","s":"Q13","v":-0.22},{"p":"h","s":"Q14","v":-0.2},{"p":"h","s":"Q15","v":-0.2},{"p":"h","s":"Q16","v":-0.18},{"p":"h","s":"Q17","v":-0.15},{"p":"h","s":"Q18","v":-0.15},{"p":"h","s":"Q19","v":-0.12},{"p":"h","s":"Q20","v":-0.1},{"p":"h","s":"Q21","v":-0.08},{"p":"h","s":"Q22","v":-0.06},{"p":"h","s":"Q23","v":-0.05},
{"p":"h","s":"H0","v":-0.06},{"p":"h","s":"H1","v":-0.07},{"p":"h","s":"H2","v":-0.08},{"p":"h","s":"H3","v":-0.06},{"p":"h","s":"H4","v":0.0},{"p":"h","s":"H5","v":0.05},{"p":"h","s":"H6","v":0.08},{"p":"h","s":"H7","v":0.1},{"p":"h","s":"H8","v":0.12},{"p":"h","s":"H9","v":0.12},{"p":"h","s":"H10","v":0.12},{"p":"h","s":"H11","v":0.1},{"p":"h","s":"H12","v":-0.1},{"p":"h","s":"H13","v":-0.12},{"p":"h","s":"H14","v":0.1},{"p":"h","s":"H15","v":0.3},{"p":"h","s":"H16","v":0.3},{"p":"h","s":"H17","v":0.28},{"p":"h","s":"H18","v":-0.1},{"p":"h","s":"H19","v":-0.3},{"p":"h","s":"H20","v":-0.3},{"p":"h","s":"H21","v":-0.2},{"p":"h","s":"H22","v":0.08},{"p":"h","s":"H23","v":0.1},{"p":"h","s":"H24","v":0.1},{"p":"h","s":"H25","v":0.08},{"p":"h","s":"H26","v":0.06},{"p":"h","s":"H27","v":0.04}
]},
"transform":[{"lookup":"s","from":{"data":{"name":"geom"},"key":"s","fields":["x","y","x2","y2","w"]}}],
"columns":4,
"align":"each",
"spacing":{"row":14,"column":2},
"concat":[
{"title":"a) all","width":122,"height":107,"transform":[{"filter":"datum.p==='a'"}],
"encoding":{"x":{"field":"x","type":"quantitative","scale":{"domain":[696,750],"nice":false,"zero":false},"axis":{"values":[700,720,740],"labels":false,"title":null}},
"y":{"field":"y","type":"quantitative","scale":{"domain":[705.6,750.5],"nice":false,"zero":false},"axis":{"values":[720,740],"title":"Ω₁ (cm⁻¹)"}},
"color":{"field":"v","type":"quantitative","scale":{"domain":[-0.643,-0.3215,0,0.3215,0.643],"range":["#00004c","#0000ff","#ffffff","#ff0000","#800000"],"interpolate":"rgb"},"legend":null}},
"layer":[{"transform":[{"filter":"datum.w!=='dot'"}],"mark":{"type":"rule","clip":true,"strokeCap":"butt"},"encoding":{"x2":{"field":"x2"},"y2":{"field":"y2"},"size":{"field":"w","type":"nominal","scale":{"type":"ordinal","domain":["n","k","d","l"],"range":[4.5,10,4.5,4]},"legend":null}}},
{"transform":[{"filter":"datum.w==='dot'"}],"mark":{"type":"circle","opacity":1,"size":34,"clip":true}}]},
{"title":"b) Θ₁","width":122,"height":107,"transform":[{"filter":"datum.p==='b'"}],
"encoding":{"x":{"field":"x","type":"quantitative","scale":{"domain":[696,750],"nice":false,"zero":false},"axis":{"values":[700,720,740],"labels":false,"title":null}},
"y":{"field":"y","type":"quantitative","scale":{"domain":[705.6,750.5],"nice":false,"zero":false},"axis":{"values":[720,740],"labels":false,"title":null}},
"color":{"field":"v","type":"quantitative","scale":{"domain":[-0.643,-0.3215,0,0.3215,0.643],"range":["#00004c","#0000ff","#ffffff","#ff0000","#800000"],"interpolate":"rgb"},"legend":null}},
"layer":[{"mark":{"type":"rule","clip":true,"strokeCap":"butt"},"encoding":{"x2":{"field":"x2"},"y2":{"field":"y2"},"size":{"field":"w","type":"nominal","scale":{"type":"ordinal","domain":["n","k","d","l"],"range":[4.5,10,4.5,4]},"legend":null}}}]},
{"title":"c) Θ₂","width":122,"height":107,"transform":[{"filter":"datum.p==='c'"}],
"encoding":{"x":{"field":"x","type":"quantitative","scale":{"domain":[696,750],"nice":false,"zero":false},"axis":{"values":[700,720,740],"labels":false,"title":null}},
"y":{"field":"y","type":"quantitative","scale":{"domain":[705.6,750.5],"nice":false,"zero":false},"axis":{"values":[720,740],"labels":false,"title":null}},
"color":{"field":"v","type":"quantitative","scale":{"domain":[-0.643,-0.3215,0,0.3215,0.643],"range":["#00004c","#0000ff","#ffffff","#ff0000","#800000"],"interpolate":"rgb"},"legend":null}},
"layer":[{"transform":[{"filter":"datum.w!=='dot'"}],"mark":{"type":"rule","clip":true,"strokeCap":"butt"},"encoding":{"x2":{"field":"x2"},"y2":{"field":"y2"},"size":{"value":4}}},
{"transform":[{"filter":"datum.w==='dot'"}],"mark":{"type":"circle","opacity":1,"size":28,"clip":true}},
{"data":{"values":[{"x":696.9,"y":750.1,"t":"×5"}]},"mark":{"type":"text","align":"left","baseline":"top","fontSize":10},"encoding":{"text":{"field":"t"},"color":{"value":"#1a1a1a"}}}]},
{"title":"d) Θ₃","width":122,"height":107,"transform":[{"filter":"datum.p==='d'"}],
"encoding":{"x":{"field":"x","type":"quantitative","scale":{"domain":[696,750],"nice":false,"zero":false},"axis":{"values":[700,720,740],"labels":false,"title":null}},
"y":{"field":"y","type":"quantitative","scale":{"domain":[705.6,750.5],"nice":false,"zero":false},"axis":{"values":[720,740],"labels":false,"title":null}},
"color":{"field":"v","type":"quantitative","scale":{"domain":[-0.643,-0.3215,0,0.3215,0.643],"range":["#00004c","#0000ff","#ffffff","#ff0000","#800000"],"interpolate":"rgb"},"legend":null}},
"layer":[{"mark":{"type":"rule","clip":true,"strokeCap":"butt"},"encoding":{"x2":{"field":"x2"},"y2":{"field":"y2"},"size":{"field":"w","type":"nominal","scale":{"type":"ordinal","domain":["n","k","d","l"],"range":[4.5,10,4.5,4]},"legend":null}}},
{"data":{"values":[{"x":696.9,"y":750.1,"t":"×5"}]},"mark":{"type":"text","align":"left","baseline":"top","fontSize":10},"encoding":{"text":{"field":"t"},"color":{"value":"#1a1a1a"}}}]},
{"title":"e) Θ₄","width":122,"height":107,"transform":[{"filter":"datum.p==='e'"}],
"encoding":{"x":{"field":"x","type":"quantitative","scale":{"domain":[696,750],"nice":false,"zero":false},"axis":{"values":[700,720,740],"title":"Ω₃ (cm⁻¹)"}},
"y":{"field":"y","type":"quantitative","scale":{"domain":[705.6,750.5],"nice":false,"zero":false},"axis":{"values":[720,740],"title":"Ω₁ (cm⁻¹)"}},
"color":{"field":"v","type":"quantitative","scale":{"domain":[-0.643,-0.3215,0,0.3215,0.643],"range":["#00004c","#0000ff","#ffffff","#ff0000","#800000"],"interpolate":"rgb"},"legend":null}},
"layer":[{"transform":[{"filter":"datum.w!=='dot'"}],"mark":{"type":"rule","clip":true,"strokeCap":"butt"},"encoding":{"x2":{"field":"x2"},"y2":{"field":"y2"},"size":{"field":"w","type":"nominal","scale":{"type":"ordinal","domain":["n","k","d","l"],"range":[4.5,10,4.5,4]},"legend":null}}},
{"transform":[{"filter":"datum.w==='dot'"}],"mark":{"type":"circle","opacity":1,"size":34,"clip":true}}]},
{"title":"f) Θ₅","width":122,"height":107,"transform":[{"filter":"datum.p==='f'"}],
"encoding":{"x":{"field":"x","type":"quantitative","scale":{"domain":[696,750],"nice":false,"zero":false},"axis":{"values":[700,720,740],"title":"Ω₃ (cm⁻¹)"}},
"y":{"field":"y","type":"quantitative","scale":{"domain":[705.6,750.5],"nice":false,"zero":false},"axis":{"values":[720,740],"labels":false,"title":null}},
"color":{"field":"v","type":"quantitative","scale":{"domain":[-0.643,-0.3215,0,0.3215,0.643],"range":["#00004c","#0000ff","#ffffff","#ff0000","#800000"],"interpolate":"rgb"},"legend":null}},
"layer":[{"mark":{"type":"rule","clip":true,"strokeCap":"butt"},"encoding":{"x2":{"field":"x2"},"y2":{"field":"y2"},"size":{"field":"w","type":"nominal","scale":{"type":"ordinal","domain":["n","k","d","l"],"range":[4.5,10,4.5,4]},"legend":null}}}]},
{"title":"g) Θ₆","width":122,"height":107,"transform":[{"filter":"datum.p==='g'"}],
"encoding":{"x":{"field":"x","type":"quantitative","scale":{"domain":[696,750],"nice":false,"zero":false},"axis":{"values":[700,720,740],"title":"Ω₃ (cm⁻¹)"}},
"y":{"field":"y","type":"quantitative","scale":{"domain":[705.6,750.5],"nice":false,"zero":false},"axis":{"values":[720,740],"labels":false,"title":null}},
"color":{"field":"v","type":"quantitative","scale":{"domain":[-0.643,-0.3215,0,0.3215,0.643],"range":["#00004c","#0000ff","#ffffff","#ff0000","#800000"],"interpolate":"rgb"},"legend":null}},
"layer":[{"mark":{"type":"rule","clip":true,"strokeCap":"butt"},"encoding":{"x2":{"field":"x2"},"y2":{"field":"y2"},"size":{"field":"w","type":"nominal","scale":{"type":"ordinal","domain":["n","k","d","l"],"range":[4.5,10,4.5,4]},"legend":null}}}]},
{"title":"h) Θ₇","width":122,"height":107,"transform":[{"filter":"datum.p==='h'"}],
"encoding":{"x":{"field":"x","type":"quantitative","scale":{"domain":[696,750],"nice":false,"zero":false},"axis":{"values":[700,720,740],"title":"Ω₃ (cm⁻¹)"}},
"y":{"field":"y","type":"quantitative","scale":{"domain":[705.6,750.5],"nice":false,"zero":false},"axis":{"values":[720,740],"labels":false,"title":null}},
"color":{"field":"v","type":"quantitative","scale":{"domain":[-0.643,-0.3215,0,0.3215,0.643],"range":["#00004c","#0000ff","#ffffff","#ff0000","#800000"],"interpolate":"rgb"},"legend":null}},
"layer":[{"mark":{"type":"rule","clip":true,"strokeCap":"butt"},"encoding":{"x2":{"field":"x2"},"y2":{"field":"y2"},"size":{"field":"w","type":"nominal","scale":{"type":"ordinal","domain":["n","k","d","l"],"range":[4.5,10,4.5,4]},"legend":null}}},
{"data":{"values":[{"x":696.9,"y":750.1,"t":"×5"}]},"mark":{"type":"text","align":"left","baseline":"top","fontSize":10},"encoding":{"text":{"field":"t"},"color":{"value":"#1a1a1a"}}}]}
]
},
{"title":" ","width":13,"height":250,
"data":{"values":[{"lo":-0.643,"hi":0.643,"a":0,"b":1}]},
"mark":{"type":"rect","stroke":"#000000","strokeWidth":1,"color":{"gradient":"linear","x1":0,"y1":1,"x2":0,"y2":0,"stops":[{"offset":0,"color":"#00004c"},{"offset":0.25,"color":"#0000ff"},{"offset":0.5,"color":"#ffffff"},{"offset":0.75,"color":"#ff0000"},{"offset":1,"color":"#800000"}]}},
"encoding":{"x":{"field":"a","type":"quantitative","scale":{"domain":[0,1],"nice":false,"zero":false},"axis":null},"x2":{"field":"b"},
"y":{"field":"lo","type":"quantitative","scale":{"domain":[-0.643,0.643],"nice":false,"zero":false},"axis":{"orient":"right","values":[-0.6,-0.4,-0.2,0,0.2,0.4,0.6],"format":".1f","domain":false,"tickColor":"#000000","tickSize":4,"tickWidth":1,"labelPadding":3,"title":"A⁽³⁾Ω₁,Ω₃  (10⁻⁶ m² Hz/(V s/m)²)","titleAngle":270,"titleBaseline":"top","titlePadding":11}},
"y2":{"field":"hi"}}}
]
}
